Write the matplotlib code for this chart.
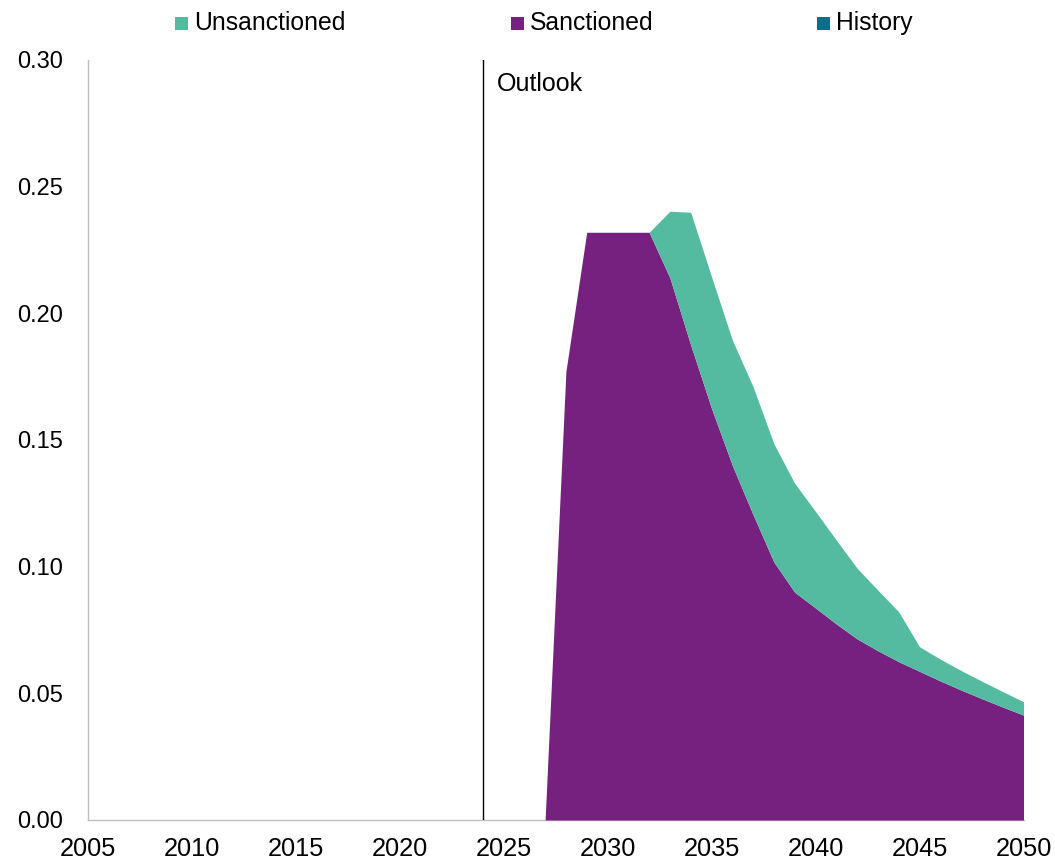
import matplotlib
matplotlib.use("Agg")
import matplotlib.pyplot as plt
from matplotlib.patches import Rectangle
import numpy as np

plt.rcParams['font.family'] = ['Liberation Sans', 'DejaVu Sans']

# Outlook data (2027-2050)
years = list(range(2027, 2051))
sanctioned = [0.0, 0.177, 0.232, 0.232, 0.232, 0.232, 0.214, 0.1875,
              0.1625, 0.140, 0.1205, 0.1018, 0.0899, 0.0837, 0.0774, 0.0715,
              0.0668, 0.0625, 0.0587, 0.0549, 0.0513, 0.0479, 0.0446, 0.0414]
unsanctioned = [0.0, 0.0, 0.0, 0.0, 0.0, 0.0, 0.0263, 0.0524,
                0.052, 0.0495, 0.0505, 0.0467, 0.043, 0.0381, 0.0331, 0.0279,
                0.0239, 0.0197, 0.0097, 0.0086, 0.0077, 0.0069, 0.0061, 0.0053]
# No historical values in this series
history_years = []
history = []

outlook_start = 2024
x_ticks = [2005, 2010, 2015, 2020, 2025, 2030, 2035, 2040, 2045, 2050]
y_ticks = [0.00, 0.05, 0.10, 0.15, 0.20, 0.25, 0.30]

c_uns = '#55BBA0'
c_san = '#76217F'
c_his = '#0E6E85'

W, H = 1055, 860
fig = plt.figure(figsize=(W / 100, H / 100), dpi=100)
ax = fig.add_axes([87.5 / W, 1 - 820 / H, (1023.5 - 87.5) / W, (820 - 60) / H])

s = np.array(sanctioned)
u = np.array(unsanctioned)
ax.fill_between(years, 0, s, color=c_san, linewidth=0, zorder=2)
ax.fill_between(years, s, s + u, color=c_uns, linewidth=0, zorder=2)
if history:
    ax.fill_between(history_years, 0, history, color=c_his, linewidth=0, zorder=2)

ax.axvline(outlook_start, color='black', linewidth=1.0, zorder=3)
ax.text(outlook_start + 0.7, 0.2905, 'Outlook', fontsize=18, va='center', ha='left')

ax.set_xlim(2005, 2050)
ax.set_ylim(0, 0.30)
ax.set_xticks(x_ticks)
ax.set_yticks(y_ticks)
ax.set_yticklabels([f'{v:.2f}' for v in y_ticks])
ax.tick_params(axis='both', length=0)
ax.tick_params(axis='y', pad=17.3, labelsize=17)
ax.tick_params(axis='x', pad=12.5, labelsize=18.3)
for side in ('top', 'right'):
    ax.spines[side].set_visible(False)
for side in ('left', 'bottom'):
    ax.spines[side].set_color('#BFBFBF')
    ax.spines[side].set_linewidth(1.0)
ax.spines['bottom'].set_zorder(1)

# Legend across the top
entries = [('Unsanctioned', c_uns, 175), ('Sanctioned', c_san, 511), ('History', c_his, 817)]
for label, col, px in entries:
    fig.add_artist(Rectangle((px / W, 1 - 30 / H), 13 / W, 13 / H,
                             transform=fig.transFigure, color=col, linewidth=0))
    fig.text((px + 19) / W, 1 - 23 / H, label, fontsize=17.8, va='center', ha='left')

fig.savefig('out.png', dpi=100)
